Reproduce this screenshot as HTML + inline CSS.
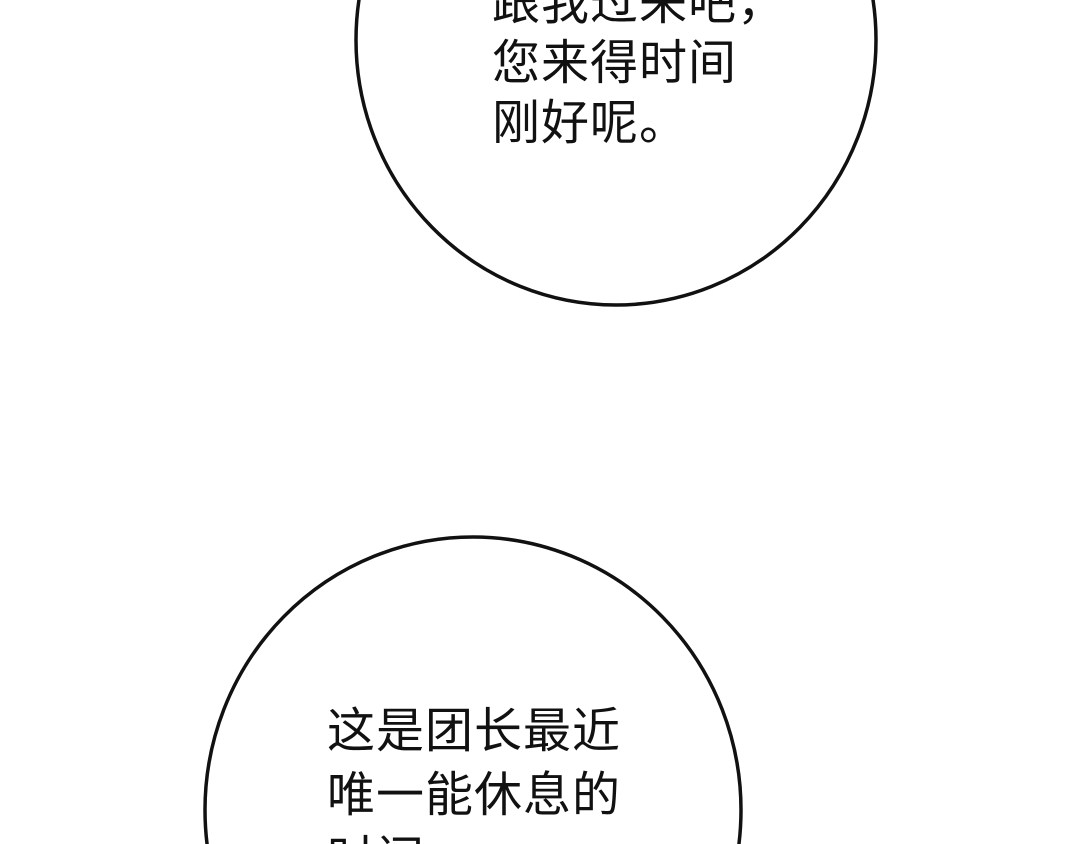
<!DOCTYPE html>
<html><head><meta charset="utf-8"><style>
html,body{margin:0;padding:0;background:#fff;width:1080px;height:844px;overflow:hidden;}
body{position:relative;}
svg{position:absolute;left:0;top:0;}
.t{position:absolute;font-family:"Liberation Sans","Noto Sans CJK SC",sans-serif;font-size:48px;color:#111;white-space:nowrap;letter-spacing:1px;}
</style></head><body>
<svg width="1080" height="844">
<ellipse cx="616" cy="40" rx="260" ry="265" fill="#fff" stroke="#111" stroke-width="3.5"/>
<ellipse cx="473" cy="810" rx="268" ry="273" fill="#fff" stroke="#111" stroke-width="3.5"/>
</svg>
<div class="t" style="left:492px;top:-26px;line-height:60px;">跟我过来吧，<br>您来得时间<br>刚好呢。</div>
<div class="t" style="left:327px;top:700px;line-height:64px;height:144px;overflow:hidden;">这是团长最近<br>唯一能休息的<br>时间</div>
</body></html>
